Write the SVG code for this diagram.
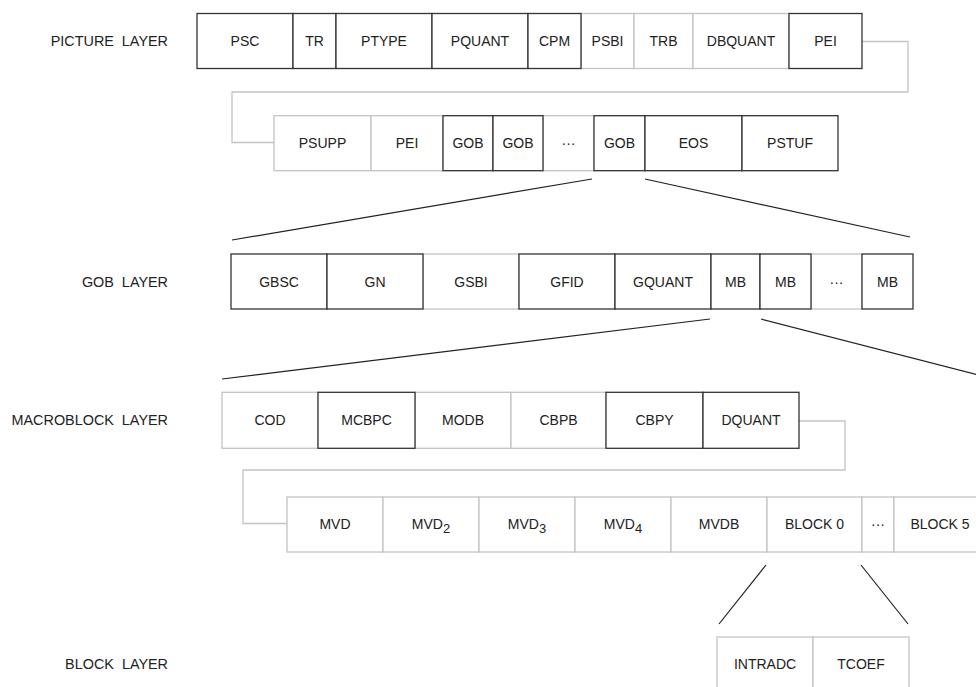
<svg xmlns="http://www.w3.org/2000/svg" width="976" height="687" viewBox="0 0 976 687">
<style>
  .k rect{fill:#fff;stroke:#333;stroke-width:1.3}
  .g rect{fill:#fff;stroke:#c4c4c4;stroke-width:1.3}
  text{font-family:"Liberation Sans",Arial,Helvetica,sans-serif;font-size:14px;fill:#222;text-anchor:middle}
  .lbl{text-anchor:end;font-size:14.4px;white-space:pre}
  .conn{fill:none;stroke:#c4c4c4;stroke-width:1.3}
  .fan{fill:none;stroke:#222;stroke-width:1.2}
</style>
<rect width="976" height="687" fill="#fff"/>
<g id="labels">
  <text class="lbl" x="168" y="46" xml:space="preserve">PICTURE  LAYER</text>
  <text class="lbl" x="168" y="287" xml:space="preserve">GOB  LAYER</text>
  <text class="lbl" x="168" y="425" xml:space="preserve">MACROBLOCK  LAYER</text>
  <text class="lbl" x="168" y="669" xml:space="preserve">BLOCK  LAYER</text>
</g>
<g id="connectors">
  <path class="conn" d="M862 41.5 H908 V92 H232 V142.5 H274"/>
  <path class="conn" d="M799 421 H845 V470 H243 V523.5 H287"/>
  <line class="fan" x1="592" y1="179" x2="232" y2="240"/>
  <line class="fan" x1="645" y1="179" x2="910" y2="237"/>
  <line class="fan" x1="710" y1="319" x2="222" y2="379"/>
  <line class="fan" x1="761" y1="319" x2="990" y2="378"/>
  <line class="fan" x1="766" y1="565" x2="719" y2="624"/>
  <line class="fan" x1="861" y1="565" x2="908" y2="624"/>
</g>
<!-- Row 1: picture layer -->
<g id="n-psbi" class="g"><rect x="581" y="13.5" width="53" height="55"/><text x="607.5" y="46">PSBI</text></g>
<g id="n-trb" class="g"><rect x="634" y="13.5" width="59" height="55"/><text x="663.5" y="46">TRB</text></g>
<g id="n-dbquant" class="g"><rect x="693" y="13.5" width="96" height="55"/><text x="741" y="46">DBQUANT</text></g>
<g id="n-psc" class="k"><rect x="197" y="13.5" width="96" height="55"/><text x="245" y="46">PSC</text></g>
<g id="n-tr" class="k"><rect x="293" y="13.5" width="43" height="55"/><text x="314.5" y="46">TR</text></g>
<g id="n-ptype" class="k"><rect x="336" y="13.5" width="96" height="55"/><text x="384" y="46">PTYPE</text></g>
<g id="n-pquant" class="k"><rect x="432" y="13.5" width="96" height="55"/><text x="480" y="46">PQUANT</text></g>
<g id="n-cpm" class="k"><rect x="528" y="13.5" width="53" height="55"/><text x="554.5" y="46">CPM</text></g>
<g id="n-pei1" class="k"><rect x="789" y="13.5" width="73" height="55"/><text x="825.5" y="46">PEI</text></g>
<!-- Row 2 -->
<g id="n-psupp" class="g"><rect x="274" y="115.7" width="97" height="55"/><text x="322.5" y="148">PSUPP</text></g>
<g id="n-pei2" class="g"><rect x="371" y="115.7" width="72" height="55"/><text x="407" y="148">PEI</text></g>
<g id="n-gobdots" class="g"><rect x="543" y="115.7" width="51" height="55"/><text x="568.5" y="148">···</text></g>
<g id="n-gob1" class="k"><rect x="443" y="115.7" width="50" height="55"/><text x="468" y="148">GOB</text></g>
<g id="n-gob2" class="k"><rect x="493" y="115.7" width="50" height="55"/><text x="518" y="148">GOB</text></g>
<g id="n-gob3" class="k"><rect x="594" y="115.7" width="51" height="55"/><text x="619.5" y="148">GOB</text></g>
<g id="n-eos" class="k"><rect x="645" y="115.7" width="97" height="55"/><text x="693.5" y="148">EOS</text></g>
<g id="n-pstuf" class="k"><rect x="742" y="115.7" width="96" height="55"/><text x="790" y="148">PSTUF</text></g>
<!-- Row 3: GOB layer -->
<g id="n-gsbi" class="g"><rect x="423" y="254" width="96" height="55"/><text x="471" y="287">GSBI</text></g>
<g id="n-mbdots" class="g"><rect x="811" y="254" width="51" height="55"/><text x="836.5" y="287">···</text></g>
<g id="n-gbsc" class="k"><rect x="231" y="254" width="96" height="55"/><text x="279" y="287">GBSC</text></g>
<g id="n-gn" class="k"><rect x="327" y="254" width="96" height="55"/><text x="375" y="287">GN</text></g>
<g id="n-gfid" class="k"><rect x="519" y="254" width="96" height="55"/><text x="567" y="287">GFID</text></g>
<g id="n-gquant" class="k"><rect x="615" y="254" width="96" height="55"/><text x="663" y="287">GQUANT</text></g>
<g id="n-mb1" class="k"><rect x="711" y="254" width="49" height="55"/><text x="735.5" y="287">MB</text></g>
<g id="n-mb2" class="k"><rect x="760" y="254" width="51" height="55"/><text x="785.5" y="287">MB</text></g>
<g id="n-mb3" class="k"><rect x="862" y="254" width="51" height="55"/><text x="887.5" y="287">MB</text></g>
<!-- Row 4: macroblock layer -->
<g id="n-cod" class="g"><rect x="222" y="392.3" width="96" height="56"/><text x="270" y="425">COD</text></g>
<g id="n-modb" class="g"><rect x="415" y="392.3" width="96" height="56"/><text x="463" y="425">MODB</text></g>
<g id="n-cbpb" class="g"><rect x="511" y="392.3" width="95" height="56"/><text x="558.5" y="425">CBPB</text></g>
<g id="n-mcbpc" class="k"><rect x="318" y="392.3" width="97" height="56"/><text x="366.5" y="425">MCBPC</text></g>
<g id="n-cbpy" class="k"><rect x="606" y="392.3" width="97" height="56"/><text x="654.5" y="425">CBPY</text></g>
<g id="n-dquant" class="k"><rect x="703" y="392.3" width="96" height="56"/><text x="751" y="425">DQUANT</text></g>
<!-- Row 5 -->
<g id="n-mvd" class="g"><rect x="287" y="497" width="96" height="55"/><text x="335" y="529">MVD</text></g>
<g id="n-mvd2" class="g"><rect x="383" y="497" width="96" height="55"/><text x="431" y="529">MVD<tspan dy="4" font-size="13">2</tspan></text></g>
<g id="n-mvd3" class="g"><rect x="479" y="497" width="96" height="55"/><text x="527" y="529">MVD<tspan dy="4" font-size="13">3</tspan></text></g>
<g id="n-mvd4" class="g"><rect x="575" y="497" width="96" height="55"/><text x="623" y="529">MVD<tspan dy="4" font-size="13">4</tspan></text></g>
<g id="n-mvdb" class="g"><rect x="671" y="497" width="96" height="55"/><text x="719" y="529">MVDB</text></g>
<g id="n-block0" class="g"><rect x="767" y="497" width="95" height="55"/><text x="814.5" y="529">BLOCK 0</text></g>
<g id="n-blockdots" class="g"><rect x="862" y="497" width="32" height="55"/><text x="878" y="529">···</text></g>
<g id="n-block5" class="g"><rect x="894" y="497" width="110" height="55"/><text x="940" y="529">BLOCK 5</text></g>
<!-- Row 6: block layer -->
<g id="n-intradc" class="g"><rect x="717" y="637" width="96" height="70"/><text x="765" y="669">INTRADC</text></g>
<g id="n-tcoef" class="g"><rect x="813" y="637" width="96" height="70"/><text x="861" y="669">TCOEF</text></g>
</svg>
